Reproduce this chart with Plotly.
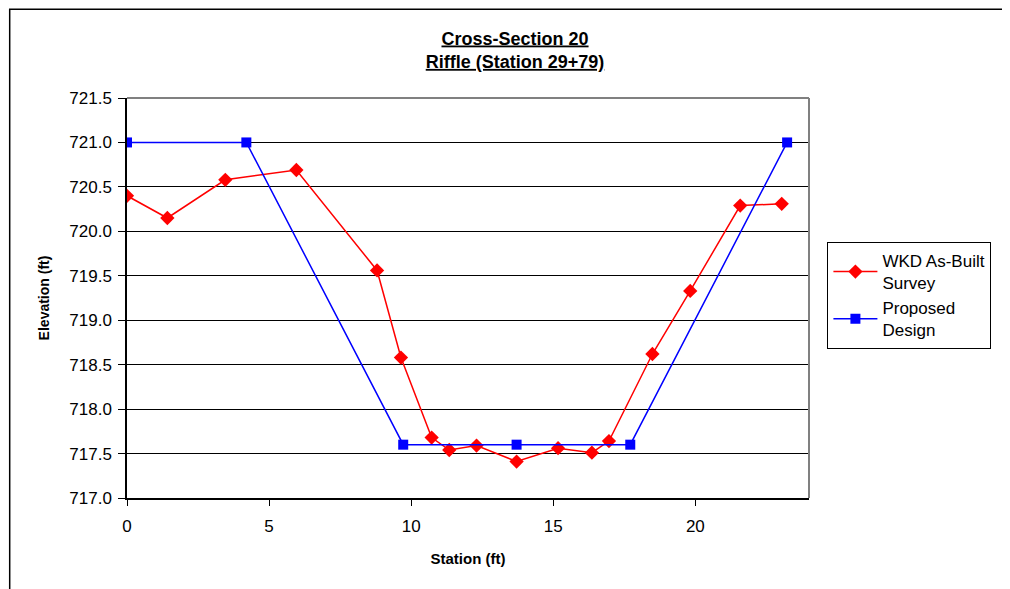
import plotly.graph_objects as go

# Data
wkd_station = [0.0, 1.42, 3.46, 5.96, 8.80, 9.64, 10.72, 11.34, 12.30, 13.71, 15.17, 16.36, 16.96, 18.49, 19.82, 21.58, 23.04]
wkd_elev = [720.40, 720.15, 720.58, 720.69, 719.56, 718.58, 717.68, 717.54, 717.59, 717.41, 717.56, 717.51, 717.64, 718.62, 719.33, 720.29, 720.31]

design_station = [0.0, 4.20, 9.72, 13.71, 17.71, 23.23]
design_elev = [721.0, 721.0, 717.6, 717.6, 717.6, 721.0]

x_ticks = [0, 5, 10, 15, 20]
y_ticks = [717.0, 717.5, 718.0, 718.5, 719.0, 719.5, 720.0, 720.5, 721.0, 721.5]

FONT = "Liberation Sans, Arial, sans-serif"

fig = go.Figure()
fig.add_trace(go.Scatter(
    x=wkd_station, y=wkd_elev, mode="lines+markers",
    name="WKD As-Built<br>Survey",
    line=dict(color="#ff0000", width=1.5),
    marker=dict(symbol="diamond", size=11, color="#ff0000"),
))
fig.add_trace(go.Scatter(
    x=design_station, y=design_elev, mode="lines+markers",
    name="Proposed<br>Design",
    line=dict(color="#0000ff", width=1.5),
    marker=dict(symbol="square", size=10, color="#0000ff"),
))

fig.update_layout(
    width=1010, height=589,
    paper_bgcolor="white", plot_bgcolor="white",
    margin=dict(l=119, r=209, t=90, b=99),
    font=dict(family=FONT, color="black"),
    title=dict(
        text="<b><u>Cross-Section 20</u></b><br><b><u>Riffle (Station 29+79)</u></b>",
        x=0.502, xanchor="center", xref="container",
        y=0.938, yanchor="top", yref="container",
        font=dict(size=18, family=FONT, color="black"),
    ),
    showlegend=True,
    legend=dict(
        x=1.027, xanchor="left", y=0.64, yanchor="top",
        bordercolor="black", borderwidth=1, bgcolor="white",
        font=dict(size=17, family=FONT, color="black"),
        itemwidth=44,
    ),
)

fig.update_xaxes(
    range=[0, 24], tickvals=x_ticks, ticktext=[str(v) for v in x_ticks],
    showgrid=False, zeroline=False,
    showline=True, linecolor="black", linewidth=1.5,
    ticks="outside", ticklen=6, tickcolor="black",
    ticklabelstandoff=6,
    tickfont=dict(size=17, family=FONT, color="black"),
    title=dict(text="<b>Station (ft)</b>", font=dict(size=15, family=FONT, color="black"), standoff=18),
)
fig.update_yaxes(
    range=[717.0, 721.5], tickvals=y_ticks, ticktext=[f"{v:.1f}" for v in y_ticks],
    showgrid=True, gridcolor="black", gridwidth=1,
    zeroline=False,
    showline=True, linecolor="black", linewidth=1.5,
    ticks="outside", ticklen=7, tickcolor="black",
    ticklabelstandoff=3,
    tickfont=dict(size=17, family=FONT, color="black"),
    title=dict(text="<b>Elevation (ft)</b>", font=dict(size=14, family=FONT, color="black"), standoff=16),
)

# gray plot-area border on top and right
fig.add_shape(type="line", xref="paper", yref="paper", x0=0, x1=1, y0=1, y1=1,
              line=dict(color="#808080", width=2), layer="above")
fig.add_shape(type="line", xref="paper", yref="paper", x0=1, x1=1, y0=0, y1=1,
              line=dict(color="#808080", width=2), layer="above")
# outer chart border (extends beyond the visible page on right/bottom)
fig.add_shape(type="rect", xref="paper", yref="paper",
              x0=-0.172, x1=1.31, y0=-0.25, y1=1.222,
              line=dict(color="black", width=1.5), layer="below")

fig.write_html("out.html")
